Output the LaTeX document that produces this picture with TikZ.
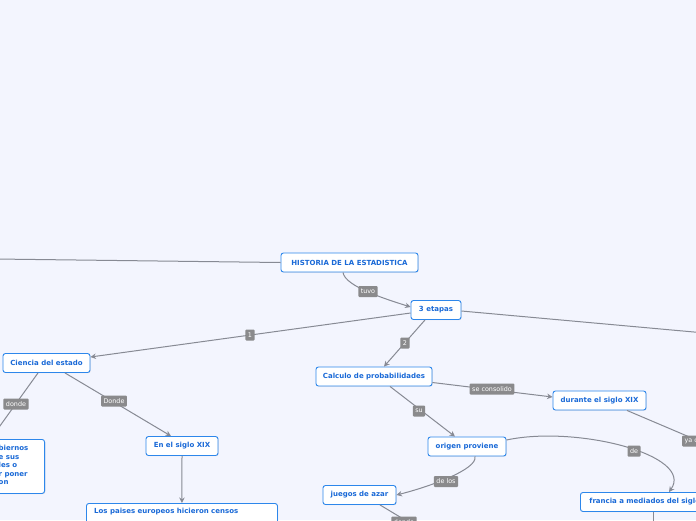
\documentclass[tikz,border=0pt]{standalone}
\usepackage{fontspec}
\setmainfont{DejaVu Sans}
\usetikzlibrary{arrows.meta,shadows}
\definecolor{bg}{RGB}{243,245,254}
\definecolor{nblue}{RGB}{45,135,235}
\definecolor{tblue}{RGB}{25,105,215}
\definecolor{lgray}{RGB}{138,138,140}
\definecolor{egray}{RGB}{135,138,148}
\tikzset{
 topic/.style={draw=nblue, line width=0.9pt, fill=white, rounded corners=2.5pt, text=tblue,
   font=\bfseries\fontsize{7}{8.5}\selectfont, minimum height=19pt, inner sep=0pt,
   drop shadow={opacity=0.2, shadow xshift=0.7pt, shadow yshift=-0.7pt}},
 btext/.style={text=tblue, font=\bfseries\fontsize{7}{8.5}\selectfont, inner sep=0pt, align=left},
 lbl/.style={fill=lgray, text=white, font=\fontsize{6.4}{7}\selectfont, rounded corners=1pt,
   inner xsep=2.5pt, inner ysep=0pt, minimum height=11pt},
 conn/.style={draw=egray, line width=1pt},
 arr/.style={conn, -{Stealth[length=5.5pt,width=5.5pt]}},
}
\begin{document}
\begin{tikzpicture}[x=1pt,y=-1pt]
\fill[bg] (0,0) rectangle (696,520);
\useasboundingbox (0,0) rectangle (696,520);
\clip (0,0) rectangle (696,520);

% topics
\node[topic, minimum width=137pt] (hist) at (349.5,262.5) {HISTORIA DE LA ESTADISTICA};
\node[topic, minimum width=50pt] (et) at (436,310) {3 etapas};
\node[topic, minimum width=87pt] (cie) at (46.5,363) {Ciencia del estado};
\node[topic, minimum width=72pt] (sig) at (182,446) {En el siglo XIX};
\node[topic, minimum width=80pt, minimum height=54pt, anchor=north east] (gob) at (45,439) {};
\node[btext, anchor=north west] (gobtxt) at (-1.5,445) {biernos\\e sus\\les o\\r poner\\on};
\node[topic, minimum width=191pt, minimum height=30pt, anchor=north west] (pais) at (86,503) {};
\node[btext, anchor=north west] (paistxt) at (94,508) {Los paises europeos hicieron censos};
\node[topic, minimum width=116pt] (calc) at (374,376.5) {Calculo de probabilidades};
\node[topic, minimum width=93pt] (dur) at (599.5,400.5) {durante el siglo XIX};
\node[topic, minimum width=78pt] (ori) at (467,446.5) {origen proviene};
\node[topic, minimum width=73pt] (jue) at (359.5,495) {juegos de azar};
\node[topic, minimum width=150pt, anchor=west, text width=141pt, align=left, inner xsep=9pt] (fra) at (580,502) {francia a mediados del siglo XVII};

% free ends
\coordinate (offL) at (-5,259);
\coordinate (offR) at (705,333);
\coordinate (offY) at (760,467);
\coordinate (offJ) at (430,535);
\coordinate (offF) at (653,530);

% connectors
\draw[conn] (hist.west) -- (offL);
\draw[arr] ([xshift=-6.5pt]hist.south) .. controls +(2,14) and +(-25,-8) .. ([yshift=3pt]et.west);
\draw[arr] ([yshift=-3pt]et.west) -- ([yshift=6pt]cie.east);
\draw[arr] ([xshift=-11pt]et.south) -- ([xshift=10pt]calc.north);
\draw[conn] ([yshift=-1pt]et.east) -- (offR);
\draw[arr] ([xshift=-8.5pt]cie.south) -- ([xshift=-14pt]gob.north);
\draw[arr] ([xshift=18.5pt]cie.south) -- ([xshift=-11pt]sig.north);
\draw[arr] (sig.south) -- (pais.north);
\draw[arr] ([yshift=-6pt]calc.east) -- ([yshift=3.5pt]dur.west);
\draw[arr] ([xshift=16pt]calc.south) -- ([xshift=-12pt]ori.north);
\draw[conn] ([xshift=27.5pt]dur.south) -- (offY);
\draw[arr] ([yshift=6.5pt]ori.east) .. controls +(70,-15) and +(26,-37) .. ([xshift=89pt]fra.north west);
\draw[arr] ([xshift=8pt]ori.south) .. controls +(3,13) and +(32,-8) .. (jue.east);
\draw[conn] ([xshift=20.5pt]jue.south) -- (offJ);
\draw[conn] ([xshift=73pt]fra.south west) -- (offF);

% labels
\node[lbl] (l1) at (368,291.5) {tuvo};
\node[lbl] (l2) at (250,335) {1};
\node[lbl] (l3) at (405,343) {2};
\node[lbl] (l4) at (16,404) {donde};
\node[lbl] (l5) at (114,401) {Donde};
\node[lbl] (l6) at (492,389) {se consolido};
\node[lbl] (l7) at (419,411) {su};
\node[lbl, anchor=west] (l8) at (682,441) {ya c\hspace{20pt}};
\node[lbl] (l9) at (634,451) {de};
\node[lbl] (l10) at (446,481.5) {de los};
\node[lbl] (l11) at (404,522) {donde};
\end{tikzpicture}
\end{document}
